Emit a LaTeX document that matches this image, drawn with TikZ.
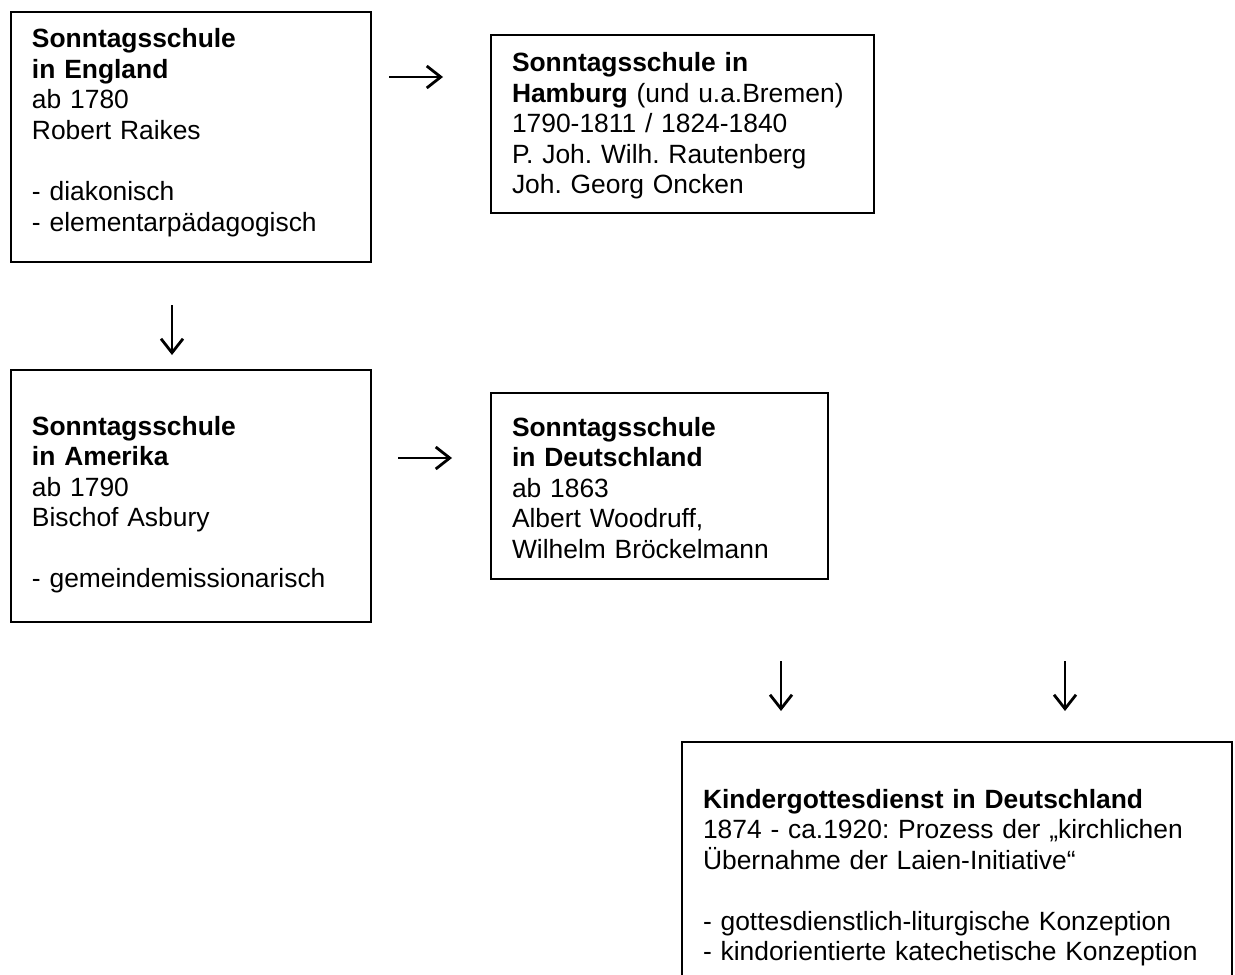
\documentclass[tikz,border=0pt]{standalone}
\usepackage{fontspec}
\setmainfont{Liberation Sans}
\usetikzlibrary{arrows.meta}
\frenchspacing

\begin{document}
\begin{tikzpicture}[x=0.5pt,y=-0.5pt,
    box/.style={draw, line width=1pt, anchor=north west, inner sep=0pt,
      inner xsep=10.5pt, align=left, font=\fontsize{13.2}{15.25}\selectfont},
    flow/.style={line width=1.4pt, -{Straight Barb[length=7pt,width=11pt]}}]
      \path[use as bounding box] (0,0) rectangle (1235,974);
      \clip (0,0) rectangle (1235,974);
      \node[box, text width=159pt, text height=18pt, text depth=107pt]
        (england) at (10,11)
        {\textbf{Sonntagsschule}\\ \textbf{in England}\\ ab 1780\\ Robert Raikes\\[15.25pt]
         - diakonisch\\ - elementarpädagogisch};
      \node[box, text width=170.5pt, text height=18.5pt, text depth=70.5pt]
        (hamburg) at (490,34)
        {\textbf{Sonntagsschule in}\\ \textbf{Hamburg} (und u.a.Bremen)\\ 1790-1811 / 1824-1840\\
         P. Joh. Wilh. Rautenberg\\ Joh. Georg Oncken};
      \node[box, text width=159pt, text height=32.5pt, text depth=93.5pt]
        (amerika) at (10,369)
        {\textbf{Sonntagsschule}\\ \textbf{in Amerika}\\ ab 1790\\ Bischof Asbury\\[15.25pt]
         - gemeindemissionarisch};
      \node[box, text width=147.5pt, text height=21.5pt, text depth=71.5pt]
        (deutschland) at (490,392)
        {\textbf{Sonntagsschule}\\ \textbf{in Deutschland}\\ ab 1863\\ Albert Woodruff,\\
         Wilhelm Bröckelmann};
      \node[box, text width=254pt, text height=33pt, text depth=96.5pt]
        (kigo) at (681,741)
        {\textbf{Kindergottesdienst in Deutschland}\\ 1874 - ca.1920: Prozess der „kirchlichen\\
         Übernahme der Laien-Initiative“\\[15.25pt]
         - gottesdienstlich-liturgische Konzeption\\ - kindorientierte katechetische Konzeption};
      % arrows
      \coordinate (a1) at (389,77);   \coordinate (b1) at (443,77);
      \coordinate (a2) at (172,305);  \coordinate (b2) at (172,355);
      \coordinate (a3) at (398,458);  \coordinate (b3) at (452,458);
      \coordinate (a4) at (781,661);  \coordinate (b4) at (781,711);
      \coordinate (a5) at (1065,661); \coordinate (b5) at (1065,711);
      \begin{scope}[flow]
        \draw (a1) to (b1);
        \draw (a2) to (b2);
        \draw (a3) to (b3);
        \draw (a4) to (b4);
        \draw (a5) to (b5);
      \end{scope}
    \end{tikzpicture}
\end{document}
